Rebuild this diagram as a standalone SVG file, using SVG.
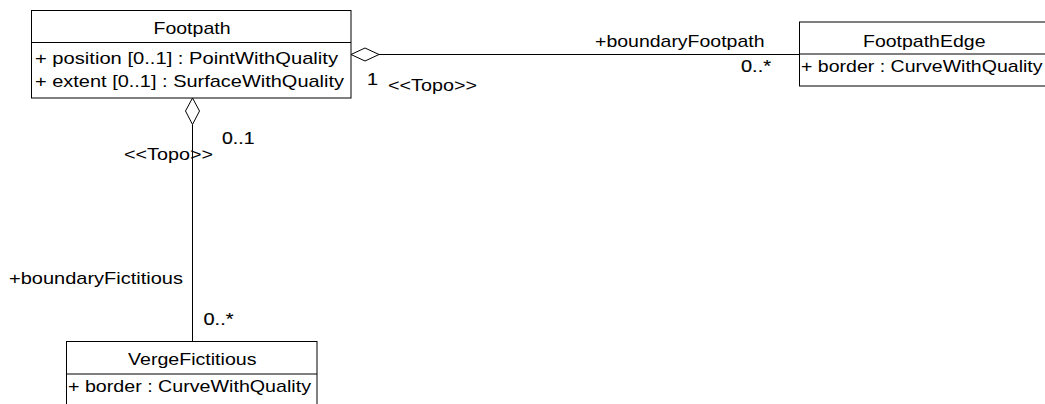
<svg xmlns="http://www.w3.org/2000/svg" width="1045" height="404" viewBox="0 0 1045 404">
<style>
.box{fill:#fff;stroke:#000;stroke-width:1}
.ln{stroke:#000;stroke-width:1;fill:none}
.dia{fill:#fff;stroke:#000;stroke-width:1}
text{font-family:"Liberation Sans",Arial,sans-serif;font-size:17px;fill:#000}
.m{stroke:#000;stroke-width:0.15}
</style>
<rect width="1045" height="404" fill="#fff"/>
<g id="connectors">
<line class="ln" x1="379" y1="54.5" x2="799.5" y2="54.5"/>
<polygon class="dia" points="351,54.5 365,48 379,54.5 365,61"/>
<line class="ln" x1="192.5" y1="124.5" x2="192.5" y2="341.5"/>
<polygon class="dia" points="192.5,98 199.5,111 192.5,124.5 185.5,111"/>
<text x="367" y="85" class="m" textLength="11" lengthAdjust="spacingAndGlyphs">1</text>
<text x="388" y="90.5" textLength="89" lengthAdjust="spacingAndGlyphs">&lt;&lt;Topo&gt;&gt;</text>
<text x="595" y="47" textLength="169.5" lengthAdjust="spacingAndGlyphs">+boundaryFootpath</text>
<text x="741" y="71.5" class="m" textLength="30" lengthAdjust="spacingAndGlyphs">0..*</text>
<text x="222" y="143.5" class="m" textLength="32.5" lengthAdjust="spacingAndGlyphs">0..1</text>
<text x="124" y="160" textLength="89" lengthAdjust="spacingAndGlyphs">&lt;&lt;Topo&gt;&gt;</text>
<text x="9" y="284" textLength="174" lengthAdjust="spacingAndGlyphs">+boundaryFictitious</text>
<text x="203.5" y="325" class="m" textLength="30" lengthAdjust="spacingAndGlyphs">0..*</text>
</g>
<g id="Footpath">
<rect class="box" x="31.5" y="10.5" width="319.5" height="87.5"/>
<line class="ln" x1="31.5" y1="42.5" x2="351" y2="42.5"/>
<text x="153.5" y="34" textLength="77" lengthAdjust="spacingAndGlyphs">Footpath</text>
<text x="35" y="63.5" textLength="303" lengthAdjust="spacingAndGlyphs">+ position [0..1] : PointWithQuality</text>
<text x="35" y="86.5" textLength="309" lengthAdjust="spacingAndGlyphs">+ extent [0..1] : SurfaceWithQuality</text>
</g>
<g id="FootpathEdge">
<rect class="box" x="799.5" y="22" width="253" height="64"/>
<line class="ln" x1="799.5" y1="54" x2="1052.5" y2="54"/>
<text x="863" y="46.5" textLength="122.5" lengthAdjust="spacingAndGlyphs">FootpathEdge</text>
<text x="801" y="72" textLength="241.5" lengthAdjust="spacingAndGlyphs">+ border : CurveWithQuality</text>
</g>
<g id="VergeFictitious">
<rect class="box" x="66.5" y="341.5" width="250.5" height="80"/>
<line class="ln" x1="66.5" y1="374" x2="317" y2="374"/>
<text x="128" y="364.5" textLength="128.5" lengthAdjust="spacingAndGlyphs">VergeFictitious</text>
<text x="68" y="392" textLength="243" lengthAdjust="spacingAndGlyphs">+ border : CurveWithQuality</text>
</g>
</svg>
